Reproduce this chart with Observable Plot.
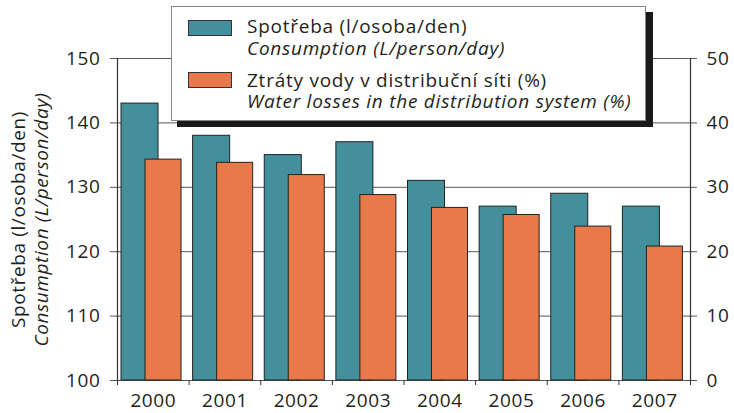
<!DOCTYPE html>
<html>
<head>
<meta charset="utf-8">
<script src="https://cdn.jsdelivr.net/npm/d3@7"></script>
<script src="https://cdn.jsdelivr.net/npm/@observablehq/plot@0.6"></script>
<style>
  body { margin: 0; background: #fff; }
  #wrap { position: relative; width: 734px; height: 413px; font-family: "Open Sans", sans-serif; }
  #wrap text { letter-spacing: 0.6px; }
  #legend text { letter-spacing: 0.75px; }
  #legend { position: absolute; left: 0; top: 0; pointer-events: none; }
</style>
</head>
<body>
<div id="wrap"></div>
<script>
const years = ["2000", "2001", "2002", "2003", "2004", "2005", "2006", "2007"];
const consumption = [143, 138, 135, 137, 131, 127, 129, 127];
const losses = [34.3, 33.8, 31.9, 28.8, 26.8, 25.7, 23.9, 20.8];
const leftTicks = [100, 110, 120, 130, 140, 150];
const rightTickLabels = ["0", "10", "20", "30", "40", "50"];
const seriesNames = [
  ["Spotřeba (l/osoba/den)", "Consumption (L/person/day)"],
  ["Ztráty vody v distribuční síti (%)", "Water losses in the distribution system (%)"]
];
const colors = ["#43909c", "#e8794a"];
const ink = "#231f20";
const FONT = "Open Sans, sans-serif";
const FS = 19;

const rows = years.map((year, i) => ({i, year, c: consumption[i], l: losses[i]}));
const base = 100; // losses (%) share the left scale: 0 % ↔ 100

const plot = Plot.plot({
  width: 734,
  height: 413,
  marginLeft: 117,
  marginRight: 44,
  marginTop: 58,
  marginBottom: 33,
  style: {fontFamily: FONT, fontSize: FS + "px", color: ink, background: "white"},
  x: {domain: [0, years.length], axis: null},
  y: {domain: [100, 150], axis: null},
  marks: [
    Plot.ruleY(leftTicks, {x1: 0, x2: years.length, stroke: "#555", strokeWidth: 1, insetLeft: -7, insetRight: -7}),
    Plot.rect(rows, {x1: "i", x2: d => d.i + 1, y1: base, y2: "c", fill: colors[0], stroke: "#222", strokeWidth: 1, insetLeft: 4, insetRight: 30.6}),
    Plot.rect(rows, {x1: "i", x2: d => d.i + 1, y1: base, y2: d => base + d.l, fill: colors[1], stroke: "#222", strokeWidth: 1, insetLeft: 28, insetRight: 7.6}),
    Plot.ruleX([0, years.length], {y1: 100, y2: 150, stroke: "#333", strokeWidth: 1.2}),
    Plot.axisX({ticks: d3.range(0, years.length + 1), tickSize: 5, tickFormat: () => "", stroke: "#333", label: null}),
    Plot.axisX({ticks: d3.range(years.length).map(i => i + 0.5), tickSize: 0, tickPadding: 13, tickFormat: d => years[Math.floor(d)], fontSize: FS, fill: ink, label: null}),
    Plot.axisY({anchor: "left", ticks: leftTicks, tickSize: 0, tickPadding: 17, fontSize: FS, fill: ink, label: null}),
    Plot.axisY({anchor: "right", ticks: leftTicks, tickSize: 0, tickPadding: 16, tickFormat: d => rightTickLabels[leftTicks.indexOf(d)], fontSize: FS, fill: ink, label: null}),
    Plot.text([seriesNames[0][0]], {frameAnchor: "left", textAnchor: "middle", rotate: -90, dx: -99, fontSize: FS, fill: ink}),
    Plot.text([seriesNames[0][1]], {frameAnchor: "left", textAnchor: "middle", rotate: -90, dx: -76, fontSize: FS, fill: ink, fontStyle: "italic"})
  ]
});
document.getElementById("wrap").appendChild(plot);

// Legend overlay (boxed, with a drop shadow)
const lg = d3.select("#wrap").append("svg").attr("id", "legend").attr("width", 734).attr("height", 135);
lg.append("rect").attr("x", 177).attr("y", 12).attr("width", 476).attr("height", 115).attr("fill", "#1c1a19");
lg.append("rect").attr("x", 171.5).attr("y", 6.5).attr("width", 474).attr("height", 114).attr("fill", "#fff").attr("stroke", "#888");
const swY = [20.5, 72.5];
const textY = [[33, 55], [87, 108]];
seriesNames.forEach((names, k) => {
  lg.append("rect").attr("x", 188.5).attr("y", swY[k]).attr("width", 43).attr("height", 15).attr("fill", colors[k]).attr("stroke", "#333");
  names.forEach((t, j) => {
    lg.append("text").attr("x", 247).attr("y", textY[k][j]).attr("font-family", FONT).attr("font-size", FS)
      .attr("font-style", j ? "italic" : "normal").attr("fill", ink).text(t);
  });
});
</script>
</body>
</html>
